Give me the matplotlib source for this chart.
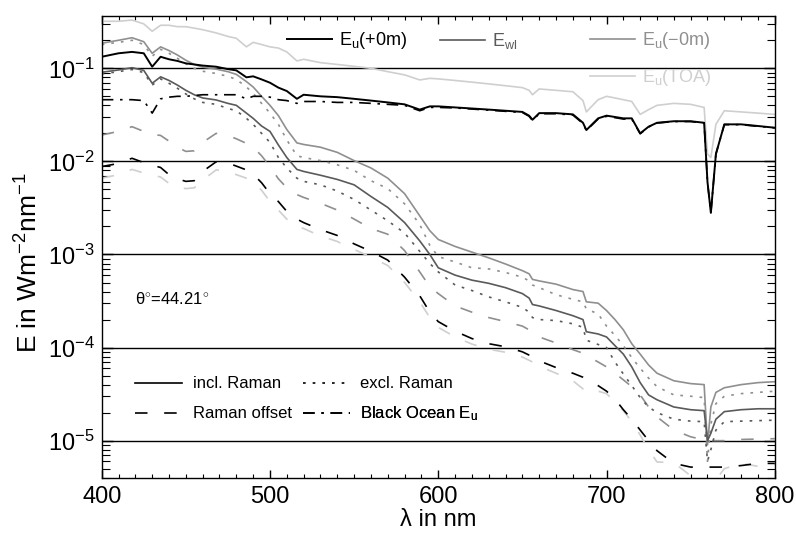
import matplotlib
matplotlib.use('Agg')
import matplotlib.pyplot as plt
from matplotlib.lines import Line2D
from matplotlib.ticker import MultipleLocator, LogLocator, NullFormatter

plt.rcParams['font.family'] = ['Liberation Sans', 'DejaVu Sans']
plt.rcParams['mathtext.fontset'] = 'custom'
plt.rcParams['mathtext.rm'] = 'Liberation Sans'
plt.rcParams['mathtext.it'] = 'Liberation Sans:italic'
plt.rcParams['mathtext.bf'] = 'Liberation Sans:bold'

# ---------------- data ----------------
wavelength = [400, 410, 418, 425, 430, 435, 440, 445, 450, 455, 460, 468, 475, 480, 486,
              490, 495, 500, 505, 510, 516, 520, 530, 540, 550, 560, 570, 580, 589, 595,
              600, 610, 620, 630, 640, 650, 654, 656, 660, 670, 680, 686, 688, 695, 700,
              705, 710, 715, 720, 725, 730, 740, 750, 758, 760, 762, 765, 770, 780, 790, 800]

# E_u(TOA), incl. Raman
eu_toa = [0.32, 0.32, 0.33, 0.30, 0.25, 0.29, 0.29, 0.28, 0.28, 0.27, 0.26, 0.24, 0.22, 0.21, 0.17,
          0.19, 0.18, 0.17, 0.165, 0.15, 0.12, 0.125, 0.115, 0.11, 0.105, 0.10, 0.092, 0.085, 0.075, 0.078,
          0.077, 0.074, 0.071, 0.068, 0.065, 0.062, 0.058, 0.052, 0.060, 0.058, 0.056, 0.045, 0.034, 0.046, 0.050,
          0.048, 0.046, 0.044, 0.032, 0.036, 0.040, 0.042, 0.041, 0.038, 0.012, 0.011, 0.025, 0.035, 0.034, 0.033, 0.032]

# E_u(+0m), incl. Raman
eu_p0 = [0.133, 0.145, 0.150, 0.145, 0.104, 0.133, 0.125, 0.120, 0.113, 0.110, 0.107, 0.104, 0.098, 0.095, 0.080,
         0.082, 0.076, 0.070, 0.062, 0.057, 0.047, 0.052, 0.050, 0.049, 0.047, 0.045, 0.043, 0.041, 0.036, 0.039,
         0.039, 0.038, 0.037, 0.036, 0.035, 0.034, 0.031, 0.028, 0.033, 0.033, 0.032, 0.026, 0.0217, 0.029, 0.031,
         0.030, 0.029, 0.029, 0.020, 0.0236, 0.026, 0.027, 0.027, 0.026, 0.006, 0.0028, 0.012, 0.025, 0.025, 0.024, 0.023]

# Black ocean E_u(+0m)
eu_p0_black = [0.046, 0.046, 0.046, 0.045, 0.033, 0.047, 0.049, 0.050, 0.050, 0.051, 0.052, 0.052, 0.052, 0.052, 0.047,
               0.050, 0.050, 0.049, 0.046, 0.045, 0.042, 0.044, 0.044, 0.043, 0.043, 0.042, 0.041, 0.040, 0.035, 0.038,
               0.038, 0.0375, 0.0365, 0.0355, 0.0345, 0.0335, 0.0305, 0.0275, 0.0325, 0.0325, 0.0315, 0.0255, 0.0215, 0.0285, 0.0305,
               0.0295, 0.0285, 0.0285, 0.0198, 0.0234, 0.0258, 0.0268, 0.0268, 0.0258, 0.006, 0.0028, 0.012, 0.0248, 0.0248, 0.0238, 0.0229]

# E_u(-0m), incl. Raman
eu_m0 = [0.186, 0.200, 0.213, 0.193, 0.145, 0.170, 0.155, 0.139, 0.122, 0.110, 0.103, 0.098, 0.092, 0.086, 0.072,
         0.063, 0.050, 0.040, 0.031, 0.022, 0.0158, 0.0152, 0.0142, 0.0125, 0.0102, 0.0085, 0.0066, 0.0045, 0.0026, 0.0018,
         0.00145, 0.00122, 0.00106, 0.00092, 0.00079, 0.00067, 0.00062, 0.00054, 0.00052, 0.00048, 0.00042, 0.00040, 0.00031, 0.00030, 0.00025,
         0.00020, 0.000155, 0.00011, 8.5e-5, 6.5e-5, 5.3e-5, 4.4e-5, 4.1e-5, 4.0e-5, 9e-6, 2.3e-5, 3.3e-5, 3.7e-5, 4.0e-5, 4.2e-5, 4.3e-5]

# E_u(-0m), excl. Raman
eu_m0_excl = [0.180, 0.190, 0.200, 0.180, 0.135, 0.160, 0.145, 0.128, 0.112, 0.100, 0.093, 0.088, 0.082, 0.076, 0.063,
              0.054, 0.042, 0.033, 0.025, 0.017, 0.0115, 0.0110, 0.0102, 0.0092, 0.0080, 0.0062, 0.0051, 0.0035, 0.0021, 0.00125,
              0.00095, 0.00083, 0.00072, 0.00070, 0.00064, 0.00057, 0.00052, 0.00047, 0.00044, 0.00037, 0.00033, 0.00031, 0.00026, 0.00023, 0.00017,
              0.000135, 0.000105, 7.8e-5, 6.0e-5, 4.7e-5, 3.8e-5, 3.1e-5, 3.0e-5, 2.9e-5, 6e-6, 1.5e-5, 2.5e-5, 3.0e-5, 3.2e-5, 3.3e-5, 3.4e-5]

# E_wl, incl. Raman
e_wl = [0.0906, 0.096, 0.1015, 0.095, 0.069, 0.081, 0.074, 0.066, 0.058, 0.052, 0.048, 0.0457, 0.042, 0.040, 0.033,
        0.029, 0.024, 0.021, 0.015, 0.011, 0.0082, 0.0078, 0.0071, 0.0064, 0.0056, 0.0042, 0.0032, 0.0022, 0.0014, 0.0010,
        0.00072, 0.00060, 0.00053, 0.00049, 0.00044, 0.00038, 0.00034, 0.00029, 0.00028, 0.00025, 0.00022, 0.00020, 0.000148, 0.00014, 0.00013,
        0.000105, 8.5e-5, 6.2e-5, 4.2e-5, 3.1e-5, 2.75e-5, 2.3e-5, 2.15e-5, 2.1e-5, 1.0e-5, 1.2e-5, 1.7e-5, 2.05e-5, 2.15e-5, 2.2e-5, 2.2e-5]

# E_wl, excl. Raman
e_wl_excl = [0.087, 0.092, 0.097, 0.090, 0.066, 0.077, 0.069, 0.061, 0.053, 0.047, 0.043, 0.041, 0.037, 0.035, 0.029,
             0.025, 0.020, 0.016, 0.011, 0.0085, 0.0066, 0.0061, 0.0056, 0.0048, 0.0039, 0.0030, 0.0023, 0.0017, 0.00108, 0.0008,
             0.00065, 0.00047, 0.00041, 0.00035, 0.00031, 0.00027, 0.00024, 0.00021, 0.00020, 0.000195, 0.00018, 0.000165, 0.00012, 0.000108, 0.0001,
             7.0e-5, 5.2e-5, 3.9e-5, 2.9e-5, 2.3e-5, 2.0e-5, 1.7e-5, 1.62e-5, 1.6e-5, 6e-6, 8e-6, 1.3e-5, 1.6e-5, 1.62e-5, 1.64e-5, 1.66e-5]

# Raman offsets
eu_m0_raman = [0.0192, 0.021, 0.0236, 0.021, 0.0195, 0.019, 0.0165, 0.0142, 0.0128, 0.0130, 0.016, 0.020, 0.019, 0.0175, 0.0156,
               0.0142, 0.0115, 0.0088, 0.0065, 0.0052, 0.0044, 0.0041, 0.00355, 0.0030, 0.0024, 0.0019, 0.00165, 0.0011, 0.00065, 0.00045,
               0.00038, 0.00028, 0.00024, 0.00021, 0.00019, 0.00017, 0.000155, 0.00014, 0.00013, 0.000112, 9.5e-5, 8.7e-5, 8.2e-5, 7.0e-5, 6.2e-5,
               5.3e-5, 4.5e-5, 3.8e-5, 3.1e-5, 2.3e-5, 1.8e-5, 1.3e-5, 1.1e-5, 1.02e-5, 1.0e-5, 1.0e-5, 1.0e-5, 1.0e-5, 1.03e-5, 1.04e-5, 1.05e-5]

eu_p0_raman = [0.0088, 0.0095, 0.0108, 0.0097, 0.0091, 0.0086, 0.0072, 0.0065, 0.0061, 0.0062, 0.0078, 0.0099, 0.0096, 0.0089, 0.0081,
               0.0073, 0.0059, 0.0045, 0.0037, 0.0029, 0.0024, 0.0022, 0.00185, 0.0016, 0.0013, 0.00108, 0.00087, 0.00057, 0.00036, 0.00024,
               0.00019, 0.00015, 0.000125, 0.00011, 0.000102, 9.0e-5, 8.3e-5, 8.0e-5, 7.2e-5, 6.1e-5, 5.3e-5, 4.8e-5, 4.6e-5, 3.9e-5, 3.4e-5,
               2.8e-5, 2.15e-5, 1.7e-5, 1.3e-5, 1.0e-5, 7.8e-6, 5.7e-6, 5.2e-6, 5.2e-6, 5.2e-6, 5.2e-6, 5.2e-6, 5.2e-6, 5.4e-6, 5.7e-6, 5.7e-6]

eu_toa_raman = [0.0066, 0.0072, 0.0082, 0.0075, 0.0071, 0.0068, 0.0058, 0.0053, 0.0051, 0.0052, 0.0063, 0.0081, 0.0078, 0.0072, 0.0066,
                0.0060, 0.0049, 0.0037, 0.0030, 0.0024, 0.0020, 0.0019, 0.00158, 0.00138, 0.00113, 0.00094, 0.00076, 0.00050, 0.00031, 0.00021,
                0.000165, 0.00013, 0.000109, 9.6e-5, 8.9e-5, 7.9e-5, 7.3e-5, 7.0e-5, 6.3e-5, 5.3e-5, 4.4e-5, 3.6e-5, 3.3e-5, 3.4e-5, 3.2e-5,
                2.6e-5, 2.1e-5, 1.6e-5, 1.15e-5, 8e-6, 5.9e-6, 5.8e-6, 4.2e-6, 3.5e-6, 3.0e-6, 3.0e-6, 3.8e-6, 5.0e-6, 5.7e-6, 5.3e-6, 5.5e-6]

top_labels = ['E$_\\mathrm{u}$(+0m)', 'E$_\\mathrm{wl}$', 'E$_\\mathrm{u}$(\u22120m)', 'E$_\\mathrm{u}$(TOA)']
style_labels = ['incl. Raman', 'excl. Raman', 'Raman offset', 'Black Ocean E$_\\mathrm{u}$']
angle_text = '\u03b8$^{\\circ}$=44.21$^{\\circ}$'

# ---------------- styles ----------------
C_P0 = 'black'
C_WL = '#5a5a5a'
C_M0 = '#8f8f8f'
C_TOA = '#cfcfcf'
LS_SOLID = '-'
LS_DOT = (0, (1.6, 4.2))
LS_DASH = (0, (7.5, 10))
LS_DASHDOT = (0, (7, 4, 1.5, 4))

fig = plt.figure(figsize=(7.96, 5.35), dpi=100)
ax = fig.add_axes([0.12777, 0.10710, 0.84560, 0.86299])
ax.set_yscale('log')

lw = 1.2
ax.plot(wavelength, eu_toa, color=C_TOA, lw=lw, ls=LS_SOLID)
ax.plot(wavelength, eu_toa_raman, color=C_TOA, lw=lw, ls=LS_DASH)
ax.plot(wavelength, eu_m0, color=C_M0, lw=lw, ls=LS_SOLID)
ax.plot(wavelength, eu_m0_excl, color=C_M0, lw=lw, ls=LS_DOT)
ax.plot(wavelength, eu_m0_raman, color=C_M0, lw=lw, ls=LS_DASH)
ax.plot(wavelength, e_wl, color=C_WL, lw=lw, ls=LS_SOLID)
ax.plot(wavelength, e_wl_excl, color=C_WL, lw=lw, ls=LS_DOT)
ax.plot(wavelength, eu_p0_raman, color=C_P0, lw=lw, ls=LS_DASH)
ax.plot(wavelength, eu_p0_black, color=C_P0, lw=lw, ls=LS_DASHDOT)
ax.plot(wavelength, eu_p0, color=C_P0, lw=1.4, ls=LS_SOLID)

ax.set_xlim(400, 800)
ax.set_ylim(4.0e-6, 0.3646)

ax.xaxis.set_major_locator(MultipleLocator(100))
ax.xaxis.set_minor_locator(MultipleLocator(10))
ax.yaxis.set_major_locator(LogLocator(base=10, numticks=20))
ax.yaxis.set_minor_locator(LogLocator(base=10, subs=range(2, 10), numticks=20))
ax.yaxis.set_minor_formatter(NullFormatter())

ax.tick_params(which='both', direction='in', top=True, right=True, labelsize=17, colors='black')
ax.tick_params(axis='x', which='major', length=6, width=1, pad=6)
ax.tick_params(axis='x', which='minor', length=3, width=0.8)
ax.tick_params(axis='y', which='major', length=8, width=1, pad=5)
ax.tick_params(axis='y', which='minor', length=6, width=0.8)
ax.yaxis.grid(True, which='major', color='black', lw=1.0)
for s in ax.spines.values():
    s.set_linewidth(1.0)

ax.set_xlabel('\u03bb in nm', fontsize=17)
ax.xaxis.set_label_coords(0.5, -0.068)
ax.set_ylabel('E in Wm$^{-2}$nm$^{-1}$', fontsize=19)
ax.yaxis.set_label_coords(-0.088, 0.465)

# top legend (colored text)
top_specs = [(C_P0, 0.275, 0.946), (C_WL, 0.5026, 0.946), (C_M0, 0.7254, 0.946), (C_TOA, 0.7254, 0.866)]
for (col, lx, ly), lab in zip(top_specs, top_labels):
    h = Line2D([], [], color=col, lw=1.4 if col == C_P0 else lw)
    leg = ax.legend([h], [lab], loc='center left', bbox_to_anchor=(lx, ly), frameon=False,
                    borderpad=0, borderaxespad=0, handlelength=2.5, handletextpad=0.4,
                    fontsize=13, labelcolor=col)
    ax.add_artist(leg)

# bottom legend (line styles)
bottom_specs = [(LS_SOLID, 0.0495, 0.203), (LS_DOT, 0.299, 0.203),
                (LS_DASH, 0.0495, 0.138), (LS_DASHDOT, 0.299, 0.138)]
for (ls, lx, ly), lab in zip(bottom_specs, style_labels):
    h = Line2D([], [], color='black', lw=lw, ls=ls)
    leg = ax.legend([h], [lab], loc='center left', bbox_to_anchor=(lx, ly), frameon=False,
                    borderpad=0, borderaxespad=0, handlelength=2.8, handletextpad=0.65,
                    fontsize=12)
    ax.add_artist(leg)

ax.text(0.0495, 0.387, angle_text, transform=ax.transAxes, fontsize=12, va='center', ha='left')

fig.savefig('out.png', dpi=100)
